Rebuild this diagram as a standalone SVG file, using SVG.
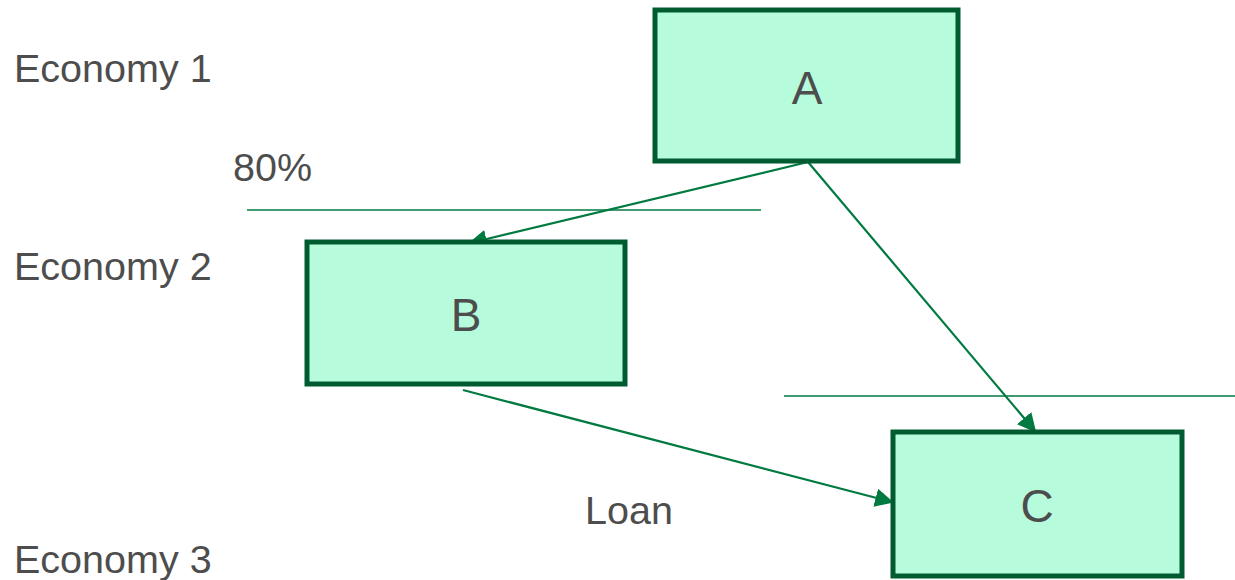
<svg xmlns="http://www.w3.org/2000/svg" width="1235" height="580" viewBox="0 0 1235 580">
<style>
.box{fill:#b6fcdc;stroke:#005c30;stroke-width:5;}
.lbl{font-family:"Liberation Sans",Arial,sans-serif;fill:#4d4d4d;font-size:39.5px;}
.big{font-size:46px;text-anchor:middle;}
.con{stroke:#007a40;stroke-width:2.2;fill:none;}
.sep{stroke:#007a40;stroke-width:1.5;fill:none;}
</style>
<defs>
<marker id="ah2" viewBox="0 0 10 10" refX="9" refY="5" markerWidth="8.5" markerHeight="8.5" orient="auto">
<path d="M0,0 L10,5 L0,10 z" fill="#007a40"/>
</marker>
</defs>
<g id="labels">
<text class="lbl" x="14" y="82">Economy 1</text>
<text class="lbl" x="14" y="280">Economy 2</text>
<text class="lbl" x="14" y="573">Economy 3</text>
<text class="lbl" x="233" y="181">80%</text>
<text class="lbl" x="585" y="524">Loan</text>
</g>
<g id="separators">
<line class="sep" x1="247" y1="210" x2="761" y2="210"/>
<line class="sep" x1="784" y1="396" x2="1235" y2="396"/>
</g>
<g id="connectors">
<line class="con" x1="808" y1="162" x2="470" y2="243" marker-end="url(#ah2)"/>
<line class="con" x1="808" y1="162" x2="1035" y2="431" marker-end="url(#ah2)"/>
<line class="con" x1="463" y1="390" x2="892" y2="502" marker-end="url(#ah2)"/>
</g>
<g id="node-A">
<rect class="box" x="655" y="10" width="303" height="151"/>
<text class="lbl big" x="807" y="104">A</text>
</g>
<g id="node-B">
<rect class="box" x="307" y="242" width="318" height="142"/>
<text class="lbl big" x="466" y="331">B</text>
</g>
<g id="node-C">
<rect class="box" x="893" y="432" width="289" height="144"/>
<text class="lbl big" x="1037" y="522">C</text>
</g>
</svg>
